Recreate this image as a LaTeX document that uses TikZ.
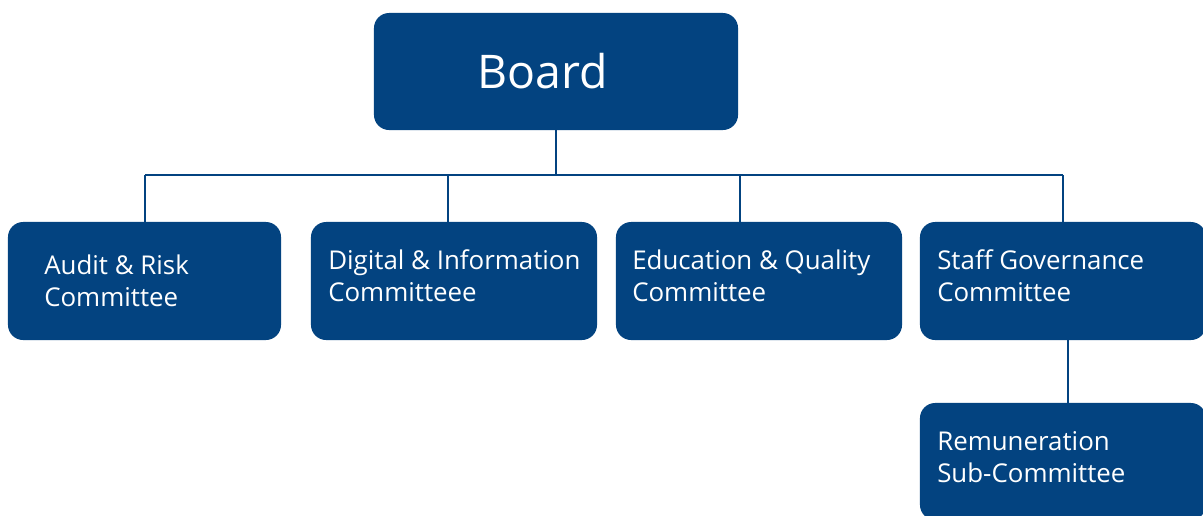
\documentclass[tikz,border=0pt]{standalone}
\usepackage{fontspec}
\setmainfont{Open Sans}
\usetikzlibrary{positioning}

\definecolor{boardblue}{RGB}{3,67,128}

\tikzset{
    unitbox/.style={fill=boardblue, draw=none, rounded corners=0.38cm, inner sep=0pt, minimum height=2.95cm},
    unitlabel/.style={text=white, anchor=base west, inner sep=0pt, align=left, font=\fontsize{18.4}{22.7}\selectfont},
    link/.style={draw=boardblue, line width=1.4pt}
}

\begin{document}
\begin{tikzpicture}[x=0.025cm, y=-0.025cm]
    \useasboundingbox (0,0) rectangle (1203,515);
    \clip (0,0) rectangle (1203,515);

    % top level
    \node[unitbox, minimum width=9.1cm, minimum height=2.925cm] (board) at (556,71.5) {};
    \node[text=white, inner sep=0pt, anchor=base, font=\fontsize{33}{38}\selectfont] (boardtext) at (542.5,88) {Board};

    % committees
    \node[unitbox, minimum width=6.825cm] (audit) at (144.5,281) {};
    \node[unitbox, minimum width=7.15cm] (digital) at (454,281) {};
    \node[unitbox, minimum width=7.15cm] (education) at (759,281) {};
    \node[unitbox, minimum width=7.15cm] (staff) at (1063,281) {};
    \node[unitbox, minimum width=7.15cm, minimum height=2.925cm] (remun) at (1063,461.5) {};

    \node[unitlabel] (audittext) at (44,306) {Audit \& Risk\\Committee};
    \node[unitlabel] (digitaltext) at (328,301) {Digital \& Information\\Committeee};
    \node[unitlabel] (educationtext) at (632,301) {Education \& Quality\\Committee};
    \node[unitlabel] (stafftext) at (937,301) {Staff Governance\\Committee};
    \node[unitlabel] (remuntext) at (937,482) {Remuneration\\Sub-Committee};

    % connectors
    \coordinate (bus) at (556,175);
    \coordinate (tapa) at (145,175);
    \coordinate (tapb) at (448,175);
    \coordinate (tapc) at (740,175);
    \coordinate (tapd) at (1063,175);
    \draw[link] (board.south) -- (bus);
    \draw[link] (tapa) -- (tapd);
    \draw[link] (tapa) -- (tapa |- audit.north);
    \draw[link] (tapb) -- (tapb |- digital.north);
    \draw[link] (tapc) -- (tapc |- education.north);
    \draw[link] (tapd) -- (tapd |- staff.north);
    \draw[link] ([xshift=0.125cm]staff.south) -- ([xshift=0.125cm]remun.north);
\end{tikzpicture}
\end{document}
